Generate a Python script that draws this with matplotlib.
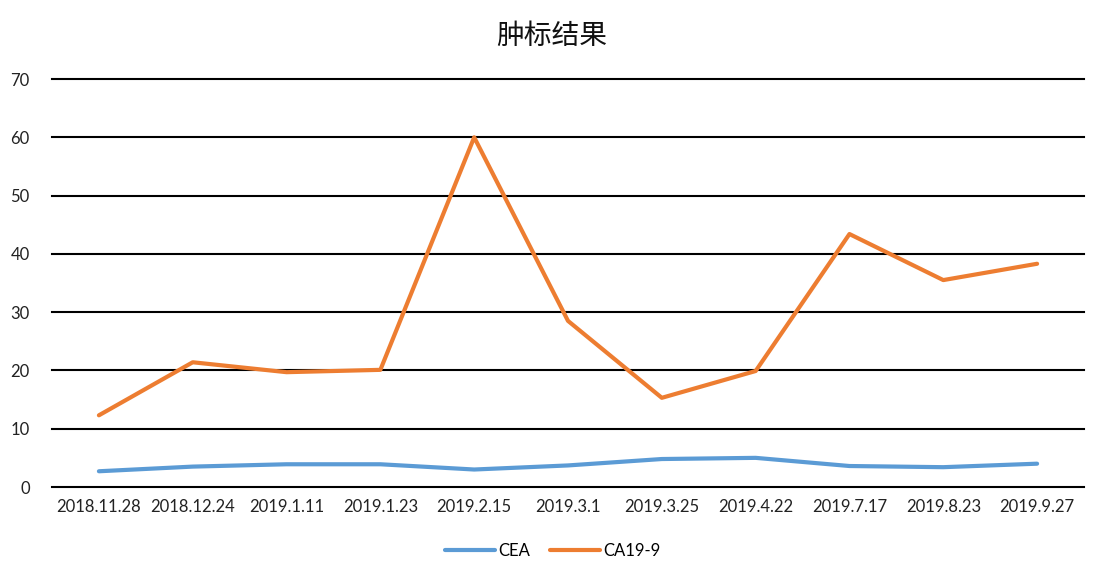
import numpy as np
import matplotlib.pyplot as plt

plt.rcParams['font.family'] = ['Lato', 'Noto Sans CJK SC', 'DejaVu Sans']

dates = ['2018.11.28', '2018.12.24', '2019.1.11', '2019.1.23', '2019.2.15', '2019.3.1',
         '2019.3.25', '2019.4.22', '2019.7.17', '2019.8.23', '2019.9.27']
cea = [2.7, 3.5, 3.9, 3.9, 3.0, 3.7, 4.8, 5.0, 3.6, 3.4, 4.0]
ca199 = [12.3, 21.4, 19.7, 20.1, 60.0, 28.5, 15.3, 19.9, 43.4, 35.5, 38.3]

fig = plt.figure(figsize=(11.06, 5.83), dpi=100)
ax = fig.add_axes([52/1106, 1 - 487/583, 1032/1106, 408/583])

x = np.arange(len(dates))
ax.plot(x, cea, color='#5B9BD5', lw=3, label='CEA', solid_capstyle='round', zorder=3)
ax.plot(x, ca199, color='#ED7D31', lw=3, label='CA19-9', solid_capstyle='round', zorder=3)

ax.set_xlim(-0.5, len(dates) - 0.5)
ax.set_ylim(0, 70)
ax.set_yticks(np.arange(0, 71, 10))
ax.set_xticks(x)
ax.set_xticklabels(dates)
ax.grid(axis='y', color='black', lw=1.5)
for gl in ax.get_ygridlines():
    gl.set_clip_on(False)
ax.set_axisbelow(True)
for s in ax.spines.values():
    s.set_visible(False)
ax.tick_params(length=0, labelsize=12, colors='#222222')
ax.tick_params(axis='x', pad=9)
ax.tick_params(axis='y', pad=16)

fig.text(552/1106, 1 - 36/583, '肿标结果', ha='center', va='center', fontsize=20,
         family=['Noto Sans CJK SC', 'DejaVu Sans'], weight='light', color='#111111')

fig.legend(loc='center', bbox_to_anchor=(0.5, 1 - 551/583), ncol=2, frameon=False,
           fontsize=12, handlelength=3.0, columnspacing=1.2, handletextpad=0.2)

fig.savefig('out.png', dpi=100)
